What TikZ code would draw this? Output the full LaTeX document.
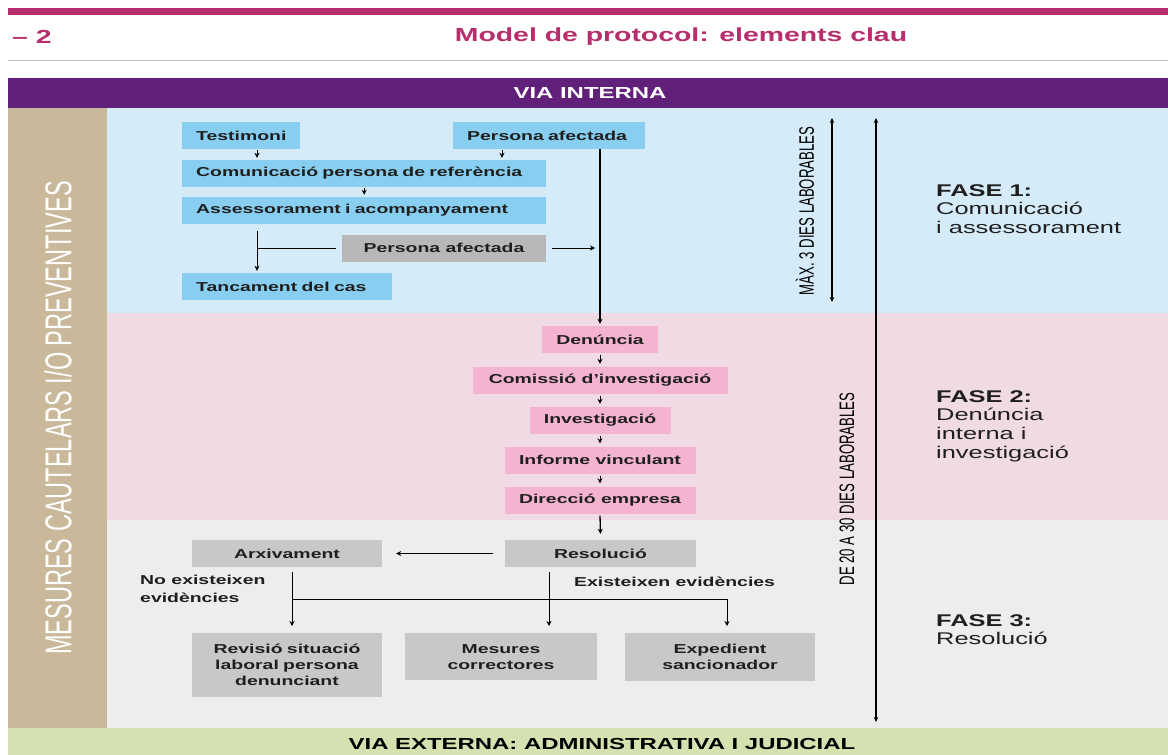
\documentclass[tikz,border=0pt]{standalone}
\usepackage{fontspec}
\setmainfont{Liberation Sans}[FakeStretch=1.5]
\newfontfamily\narrowfont{Liberation Sans}[FakeStretch=0.63]
\usetikzlibrary{arrows.meta}
\definecolor{magbar}{RGB}{183,45,110}
\definecolor{viapurple}{RGB}{97,32,122}
\definecolor{tanbg}{RGB}{201,185,154}
\definecolor{bluebg}{RGB}{214,235,248}
\definecolor{pinkbg}{RGB}{240,218,227}
\definecolor{graybg}{RGB}{237,237,237}
\definecolor{greenbg}{RGB}{212,225,176}
\definecolor{boxblue}{RGB}{135,206,240}
\definecolor{boxpink}{RGB}{244,179,208}
\definecolor{boxgray}{RGB}{200,200,200}
\definecolor{boxgraydk}{RGB}{184,184,184}
\tikzset{
  bx/.style={inner ysep=0pt, minimum height=27bp, text=black!88, font=\fontsize{13}{16}\selectfont\bfseries},
  bluebx/.style={bx, fill=boxblue, anchor=west, inner xsep=14bp, align=left},
  pinkbx/.style={bx, fill=boxpink, inner xsep=0pt},
  graybx/.style={bx, fill=boxgray, inner xsep=0pt},
  tallbx/.style={graybx, anchor=north, align=center, inner ysep=11bp},
  arr/.style={-{Stealth[length=5bp,width=5bp]}, line width=1bp},
  arrboth/.style={{Stealth[length=5bp,width=4.5bp]}-{Stealth[length=5bp,width=4.5bp]}, line width=1.3bp},
  fase/.style={anchor=north west, inner sep=0pt, align=left, text=black!88, font=\fontsize{17}{19}\selectfont},
  vlabel/.style={rotate=90, inner sep=0pt, font=\narrowfont\fontsize{21}{21}\selectfont},
  smalltxt/.style={inner sep=0pt, text=black!88, font=\fontsize{13}{18}\selectfont\bfseries},
}
\begin{document}
\begin{tikzpicture}[x=1bp, y=-1bp]
\useasboundingbox (0,0) rectangle (1168,755);
\fill[white] (0,0) rectangle (1168,755);
\fill[magbar] (8,8) rectangle (1168,15);
\node[text=magbar, font=\fontsize{19}{19}\selectfont\bfseries, anchor=west, inner sep=0pt] (num) at (12,37) {– 2};
\node[text=magbar, font=\fontsize{19}{19}\selectfont\bfseries, inner sep=0pt] (tit) at (681,37) {Model de protocol: elements clau};
\draw[black!25, line width=1bp] (8,61) -- (1168,61);
\fill[viapurple] (8,78) rectangle (1168,108);
\node[text=white, font=\fontsize{16}{16}\selectfont\bfseries] (vint) at (590,93) {VIA INTERNA};
\fill[tanbg] (8,108) rectangle (107,728);
\fill[bluebg] (107,108) rectangle (1168,313);
\fill[pinkbg] (107,313) rectangle (1168,520);
\fill[graybg] (107,520) rectangle (1168,728);
\fill[greenbg] (8,728) rectangle (1168,755);
\node[text=black, font=\fontsize{16}{16}\selectfont\bfseries] (vext) at (602,744) {VIA EXTERNA: ADMINISTRATIVA I JUDICIAL};
\node[vlabel, text=white, font=\narrowfont\fontsize{37.5}{37.5}\selectfont] (mcp) at (58,418) {MESURES CAUTELARS I/O PREVENTIVES};

\node[bluebx, text width=90bp] (tes) at (182,135.5) {Testimoni};
\node[bluebx, text width=164bp] (paf) at (453,135.5) {Persona afectada};
\node[bluebx, text width=336bp] (com) at (182,173.5) {Comunicació persona de referència};
\node[bluebx, text width=336bp] (ass) at (182,210.5) {Assessorament i acompanyament};
\node[graybx, fill=boxgraydk, minimum width=204bp] (pa2) at (444,248) {Persona afectada};
\node[bluebx, text width=182bp] (tan) at (182,286.5) {Tancament del cas};

\node[pinkbx, minimum width=116bp] (den) at (600,339.5) {Denúncia};
\node[pinkbx, minimum width=255bp] (cmi) at (600,380.5) {Comissió d’investigació};
\node[pinkbx, minimum width=141bp] (inv) at (600,420.5) {Investigació};
\node[pinkbx, minimum width=191bp] (inf) at (600,460) {Informe vinculant};
\node[pinkbx, minimum width=191bp] (dir) at (600,500) {Direcció empresa};

\node[graybx, minimum width=190bp] (arx) at (287,553.5) {Arxivament};
\node[graybx, minimum width=191bp] (res) at (600.5,553.5) {Resolució};
\node[tallbx, text width=190bp] (rev) at (287,633) {Revisió situació\\laboral persona\\denunciant};
\node[tallbx, text width=192bp] (mes) at (501,633) {Mesures\\correctores};
\node[tallbx, text width=190bp] (exd) at (720,633) {Expedient\\sancionador};
\node[smalltxt, anchor=north west, align=left] (noev) at (140,575) {No existeixen\\evidències};
\node[smalltxt, anchor=west] (siev) at (574,582) {Existeixen evidències};

\node[fase] (f1) at (936,184) {\textbf{FASE 1:}\\Comunicació\\i assessorament};
\node[fase] (f2) at (936,390) {\textbf{FASE 2:}\\Denúncia\\interna i\\investigació};
\node[fase] (f3) at (936,614) {\textbf{FASE 3:}\\Resolució};
\node[vlabel] (maxl) at (805,211) {MÀX. 3 DIES LABORABLES};
\node[vlabel] (dial) at (847,489) {DE 20 A 30 DIES LABORABLES};

\coordinate (m1) at (832,118);
\coordinate (m2) at (832,302);
\coordinate (d1) at (876,118);
\coordinate (d2) at (876,722);
\draw[arrboth] (m1) -- (m2);
\draw[arrboth, line width=1.5bp] (d1) -- (d2);

\coordinate (lx) at (257,0);
\coordinate (px) at (502,0);
\draw[arr, shorten <=1bp, shorten >=2bp] (tes.south -| lx) -- (com.north -| lx);
\draw[arr, shorten <=1bp, shorten >=2bp] (paf.south -| px) -- (com.north -| px);
\draw[arr, shorten <=1bp, shorten >=2bp] (com.south) -- (ass.north);
\draw[line width=1bp, shorten <=6bp] (pa2.west) -- (pa2.west -| lx);
\draw[arr, shorten <=7bp, shorten >=2bp] (ass.south -| lx) -- (tan.north -| lx);
\draw[arr, shorten <=6bp, shorten >=5bp] (pa2.east) -- (pa2.east -| den.north);
\draw[arr, line width=1.3bp, shorten >=2bp] (paf.south -| den.north) -- (den.north);
\foreach \a/\b in {den/cmi, cmi/inv, inv/inf, inf/dir}
  \draw[arr, shorten <=2bp, shorten >=3bp] (\a.south) -- (\b.north);
\draw[arr, line width=1.3bp, shorten <=2bp, shorten >=6bp] (dir.south) -- (res.north);

\coordinate (ax) at (292,0);
\coordinate (mx) at (549,0);
\coordinate (ex) at (727,0);
\coordinate (hz) at (0,599);
\draw[arr, shorten <=12bp, shorten >=14bp] (res.west) -- (arx.east);
\draw[arr, shorten <=5bp, shorten >=7bp] (arx.south -| ax) -- (rev.north -| ax);
\draw[arr, shorten <=5bp, shorten >=7bp] (res.south -| mx) -- (mes.north -| mx);
\draw[arr, shorten >=7bp] (hz -| ax) -- (hz -| ex) -- (exd.north -| ex);
\end{tikzpicture}
\end{document}
